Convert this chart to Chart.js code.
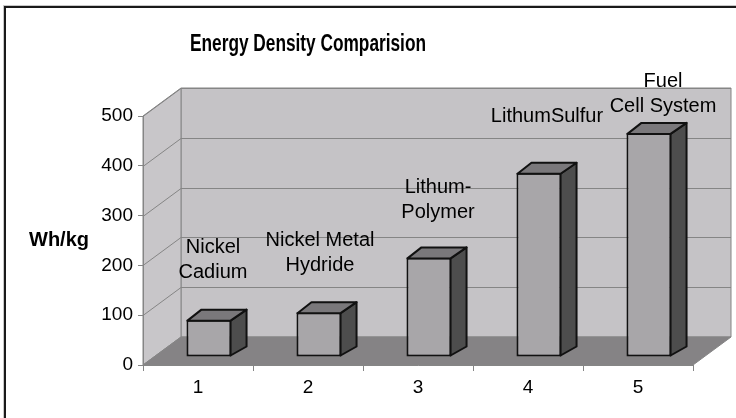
<!DOCTYPE html>
<html>
<head>
<meta charset="utf-8">
<script src="https://cdn.jsdelivr.net/npm/chart.js@4/dist/chart.umd.min.js"></script>
<style>
  html, body { margin: 0; padding: 0; background: #fff; }
  canvas { display: block; }
</style>
</head>
<body>
<canvas id="chart" width="736" height="418"></canvas>
<script>
// Specific energy of battery / fuel-cell technologies (Wh/kg)
const categories = ['1', '2', '3', '4', '5'];
const technologyNames = [
  ['Nickel', 'Cadium'],
  ['Nickel Metal', 'Hydride'],
  ['Lithum-', 'Polymer'],
  ['LithumSulfur'],
  ['Fuel', 'Cell System']
];
const whPerKg = [75, 90, 200, 370, 450];
const yTickValues = [0, 100, 200, 300, 400, 500];

const chartTitle = 'Energy Density Comparision';
const yAxisTitle = 'Wh/kg';

// 3D look: oblique depth of the walls and of the bars
const WALL_DEPTH = { x: 38, y: -28 };
const BAR_OFFSET = { x: 11, y: -8 };
const BAR_DEPTH = { x: 15, y: -10 };
// name label placement per bar: [horizontal shift, lift of last line above bar top]
const nameLayout = [[4, 47], [1, 47], [9, 45], [8, 56], [14, 26]];

const FONT = '"Liberation Sans", Arial, Helvetica, sans-serif';
const COLORS = {
  wall: '#c5c3c6',
  sideWall: '#c8c6c9',
  floor: '#858385',
  grid: '#858585',
  front: '#a8a6a9',
  side: '#4d4d4d',
  top: '#7a787b',
  edge: '#111111'
};

function poly(ctx, pts, fill, stroke, lw) {
  ctx.beginPath();
  ctx.moveTo(pts[0][0], pts[0][1]);
  for (let i = 1; i < pts.length; i++) ctx.lineTo(pts[i][0], pts[i][1]);
  ctx.closePath();
  if (fill) { ctx.fillStyle = fill; ctx.fill(); }
  if (stroke) { ctx.strokeStyle = stroke; ctx.lineWidth = lw || 1; ctx.stroke(); }
}

const chartFrame = {
  id: 'chartFrame',
  beforeDraw(chart) {
    const { ctx, chartArea: a, scales } = chart;
    const y = scales.y;
    const dx = WALL_DEPTH.x, dy = WALL_DEPTH.y;
    ctx.save();
    ctx.fillStyle = '#fff';
    ctx.fillRect(0, 0, chart.width, chart.height);

    // outer frame
    ctx.strokeStyle = '#c8c8c8';
    ctx.lineWidth = 1;
    ctx.strokeRect(3.5, 5.5, 800, 500);
    ctx.strokeStyle = '#1a1a1a';
    ctx.lineWidth = 2;
    ctx.strokeRect(5, 7, 800, 500);

    const top = y.getPixelForValue(y.max);
    const bottom = y.getPixelForValue(0);

    // back wall
    poly(ctx, [[a.left + dx, top + dy], [a.right + dx, top + dy],
               [a.right + dx, bottom + dy], [a.left + dx, bottom + dy]],
         COLORS.wall, COLORS.grid, 1);
    // side wall
    poly(ctx, [[a.left, top], [a.left + dx, top + dy],
               [a.left + dx, bottom + dy], [a.left, bottom]],
         COLORS.sideWall, COLORS.grid, 1);
    // floor
    poly(ctx, [[a.left, bottom], [a.right, bottom],
               [a.right + dx, bottom + dy], [a.left + dx, bottom + dy]],
         COLORS.floor, COLORS.grid, 1);

    // gridlines on both walls
    ctx.strokeStyle = COLORS.grid;
    ctx.lineWidth = 1;
    y.ticks.forEach(t => {
      const py = Math.round(y.getPixelForValue(t.value)) + 0.5;
      if (t.value === 0) return;
      ctx.beginPath();
      ctx.moveTo(a.left, py);
      ctx.lineTo(a.left + dx, py + dy);
      ctx.lineTo(a.right + dx, py + dy);
      ctx.stroke();
    });
    ctx.restore();
  },
  beforeDatasetsDraw(chart) {
    chart.ctx.save();
    chart.ctx.translate(BAR_OFFSET.x, BAR_OFFSET.y);
  },
  afterDatasetsDraw(chart) {
    const ctx = chart.ctx;
    ctx.restore();
    const meta = chart.getDatasetMeta(0);
    ctx.save();
    ctx.lineJoin = 'round';
    meta.data.forEach(bar => {
      const p = bar.getProps(['x', 'y', 'base', 'width'], true);
      const l = p.x - p.width / 2 + BAR_OFFSET.x;
      const r = p.x + p.width / 2 + BAR_OFFSET.x;
      const t = p.y + BAR_OFFSET.y;
      const b = p.base + BAR_OFFSET.y;
      const ddx = BAR_DEPTH.x, ddy = BAR_DEPTH.y;
      // right side face
      poly(ctx, [[r - 1, t + 1], [r + ddx, t + ddy], [r + ddx, b + ddy], [r - 1, b - 1]],
           COLORS.side, COLORS.edge, 2);
      // top face
      poly(ctx, [[l + 1, t + 1], [l + ddx, t + ddy], [r + ddx, t + ddy], [r - 1, t + 1]],
           COLORS.top, COLORS.edge, 2);
    });
    ctx.restore();
  },
  afterDraw(chart) {
    const { ctx } = chart;
    const meta = chart.getDatasetMeta(0);
    ctx.save();
    ctx.fillStyle = '#000';
    ctx.textAlign = 'center';
    ctx.textBaseline = 'middle';

    // technology names above the bars
    ctx.font = '20px ' + FONT;
    meta.data.forEach((bar, i) => {
      const lines = technologyNames[i];
      const cx = bar.x + BAR_OFFSET.x + nameLayout[i][0];
      const lastY = bar.y + BAR_OFFSET.y - nameLayout[i][1];
      lines.forEach((line, k) => {
        ctx.fillText(line, cx, lastY - (lines.length - 1 - k) * 25);
      });
    });

    // axis title (horizontal)
    ctx.font = 'bold 20px ' + FONT;
    ctx.fillText(yAxisTitle, 59, 240);

    // chart title, condensed
    ctx.font = 'bold 23px ' + FONT;
    const w = ctx.measureText(chartTitle).width;
    const sx = 236 / w;
    ctx.translate(308, 45);
    ctx.scale(sx, 1);
    ctx.fillText(chartTitle, 0, 0);
    ctx.restore();
  }
};

new Chart(document.getElementById('chart'), {
  type: 'bar',
  data: {
    labels: categories,
    datasets: [{
      label: yAxisTitle,
      data: whPerKg,
      backgroundColor: COLORS.front,
      borderColor: COLORS.edge,
      borderWidth: 2,
      borderSkipped: false,
      barPercentage: 0.41,
      categoryPercentage: 1,
      clip: false
    }]
  },
  options: {
    responsive: false,
    animation: false,
    events: [],
    layout: { padding: { top: 116, right: 43, left: 0, bottom: 0 } },
    plugins: {
      legend: { display: false },
      title: { display: false },
      tooltip: { enabled: false }
    },
    scales: {
      x: {
        offset: true,
        afterFit(scale) { scale.height = 53; },
        grid: { offset: true, drawOnChartArea: false, drawTicks: true, tickLength: 6, color: COLORS.grid },
        border: { color: COLORS.grid, width: 1 },
        ticks: { color: '#000', padding: 5, font: { family: FONT, size: 19 } }
      },
      y: {
        min: 0,
        max: 500,
        afterFit(scale) { scale.width = 143; },
        afterBuildTicks(scale) { scale.ticks = yTickValues.map(v => ({ value: v })); },
        grid: { drawOnChartArea: false, drawTicks: true, tickLength: 5, color: COLORS.grid },
        border: { color: COLORS.grid, width: 1 },
        ticks: { color: '#000', padding: 5, font: { family: FONT, size: 19 } }
      }
    }
  },
  plugins: [chartFrame]
});
</script>
</body>
</html>
